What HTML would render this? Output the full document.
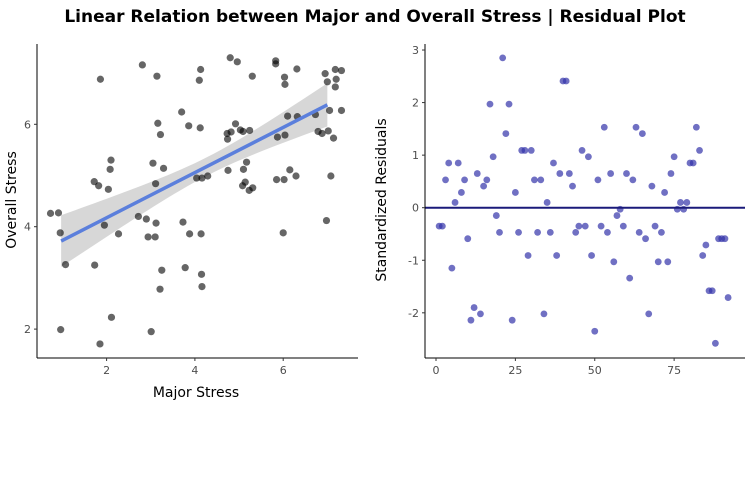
<!DOCTYPE html>
<html><head><meta charset="utf-8">
<style>
body{margin:0;background:#fff;width:750px;height:480px;overflow:hidden;font-family:"Liberation Sans",sans-serif}
svg text{font-family:"DejaVu Sans","Liberation Sans",sans-serif}
</style></head>
<body>
<svg id="chart" width="750" height="480">
<text x="375" y="22" text-anchor="middle" font-size="17" font-weight="bold" fill="#000">Linear Relation between Major and Overall Stress | Residual Plot</text>
<g id="left"></g>
<g id="right"></g>
</svg>
<script>
const majorX=[0.73,0.91,0.95,1.07,0.96,1.86,1.72,1.82,2.04,2.10,2.08,1.95,2.27,1.73,2.11,1.85,2.81,3.14,3.16,3.22,3.05,3.11,3.29,2.72,2.90,3.12,2.94,3.10,3.25,3.21,3.01,3.70,3.86,4.13,4.10,4.12,4.04,4.16,4.29,3.73,3.88,4.14,3.78,4.15,4.16,4.80,4.96,5.30,4.73,4.82,4.74,4.92,5.03,5.09,5.24,5.17,4.75,5.10,5.14,5.08,5.23,5.31,5.83,5.83,6.31,6.03,6.04,6.10,6.32,5.87,6.04,5.85,6.02,6.15,6.29,6.00,6.95,7.18,7.32,7.00,7.20,7.18,6.73,7.05,7.32,6.79,6.88,7.02,7.14,7.08,6.98];
const overallY=[4.26,4.27,3.88,3.26,1.99,6.88,4.88,4.80,4.73,5.30,5.12,4.03,3.86,3.25,2.23,1.71,7.16,6.94,6.02,5.80,5.24,4.84,5.14,4.20,4.15,4.07,3.80,3.80,3.15,2.78,1.95,6.24,5.97,7.07,6.86,5.93,4.95,4.95,4.99,4.09,3.86,3.86,3.20,3.07,2.83,7.30,7.22,6.94,5.82,5.85,5.71,6.01,5.89,5.86,5.88,5.26,5.10,5.12,4.87,4.80,4.71,4.76,7.24,7.18,7.08,6.92,6.78,6.16,6.15,5.75,5.79,4.92,4.92,5.11,4.99,3.88,6.99,7.07,7.05,6.83,6.88,6.73,6.19,6.27,6.27,5.86,5.82,5.87,5.73,4.99,4.12];
const fitX=[0.97,7.0];
const fitY=[3.72,6.38];
const xTicksL=[2,4,6];
const yTicksL=[2,4,6];
const residuals=[-0.35,-0.35,0.53,0.85,-1.15,0.10,0.85,0.29,0.53,-0.59,-2.14,-1.90,0.65,-2.02,0.41,0.53,1.97,0.97,-0.15,-0.47,2.85,1.41,1.97,-2.14,0.29,-0.47,1.09,1.09,-0.91,1.09,0.53,-0.47,0.53,-2.02,0.10,-0.47,0.85,-0.91,0.65,2.41,2.41,0.65,0.41,-0.47,-0.35,1.09,-0.35,0.97,-0.91,-2.35,0.53,-0.35,1.53,-0.47,0.65,-1.03,-0.15,-0.03,-0.35,0.65,-1.34,0.53,1.53,-0.47,1.41,-0.59,-2.02,0.41,-0.35,-1.03,-0.47,0.29,-1.03,0.65,0.97,-0.03,0.10,-0.03,0.10,0.85,0.85,1.53,1.09,-0.91,-0.71,-1.58,-1.58,-2.58,-0.59,-0.59,-0.59,-1.71];
const xTicksR=[0,25,50,75];
const yTicksR=[-2,-1,0,1,2,3];

const NS="http://www.w3.org/2000/svg";
function mk(p,t,a){const e=document.createElementNS(NS,t);for(const k in a)e.setAttribute(k,a[k]);p.appendChild(e);return e;}
// left axes
const lx=v=>18.3+v*44.15, ly=v=>431.5-v*51.2;
const L=document.getElementById('left');
// band
let up=[],dn=[];
for(let i=0;i<=40;i++){const x=fitX[0]+(fitX[1]-fitX[0])*i/40;const y=fitY[0]+(fitY[1]-fitY[0])*(x-fitX[0])/(fitX[1]-fitX[0]);const hw=Math.sqrt(0.0324+0.02*(x-4.3)*(x-4.3));up.push(lx(x)+','+ly(y+hw));dn.unshift(lx(x)+','+ly(y-hw));}
let band=mk(L,'polygon',{points:up.concat(dn).join(' '),fill:'#bdbdbd','fill-opacity':'0.6'});


majorX.forEach((x,i)=>{const c=mk(L,'circle',{cx:lx(x),cy:ly(overallY[i]),r:3.6,fill:'#000','fill-opacity':'0.6'});

});
let fl=mk(L,'line',{x1:lx(fitX[0]),y1:ly(fitY[0]),x2:lx(fitX[1]),y2:ly(fitY[1]),stroke:'#5b7fdc','stroke-width':3.5});


mk(L,'line',{x1:37,y1:44,x2:37,y2:358,stroke:'#000','stroke-width':1});
mk(L,'line',{x1:37,y1:358,x2:358,y2:358,stroke:'#000','stroke-width':1});
xTicksL.forEach(v=>{mk(L,'line',{x1:lx(v),y1:358,x2:lx(v),y2:361,stroke:'#333'});const t=mk(L,'text',{x:lx(v),y:374,'text-anchor':'middle','font-size':11,fill:'#4d4d4d'});t.textContent=v;

});
yTicksL.forEach(v=>{mk(L,'line',{x1:34,y1:ly(v),x2:37,y2:ly(v),stroke:'#333'});const t=mk(L,'text',{x:31,y:ly(v)+4,'text-anchor':'end','font-size':11,fill:'#4d4d4d'});t.textContent=v;

});
let xl=mk(L,'text',{x:196,y:397,'text-anchor':'middle','font-size':14,fill:'#000'});xl.textContent='Major Stress';


let yl=mk(L,'text',{x:0,y:0,'text-anchor':'middle','font-size':14,fill:'#000',transform:'translate(16,200) rotate(-90)'});yl.textContent='Overall Stress';


// right
const rx=v=>436+v*3.175, ry=v=>207.7-v*52.56;
const R=document.getElementById('right');
residuals.forEach((v,i)=>{const c=mk(R,'circle',{cx:rx(i+1),cy:ry(v),r:3.4,fill:'#3333aa','fill-opacity':'0.7'});

});
let zl=mk(R,'line',{x1:425,y1:ry(0),x2:745,y2:ry(0),stroke:'#1a1a7a','stroke-width':2});


mk(R,'line',{x1:425,y1:44,x2:425,y2:358,stroke:'#000'});
mk(R,'line',{x1:425,y1:358,x2:745,y2:358,stroke:'#000'});
xTicksR.forEach(v=>{mk(R,'line',{x1:rx(v),y1:358,x2:rx(v),y2:361,stroke:'#333'});const t=mk(R,'text',{x:rx(v),y:374,'text-anchor':'middle','font-size':11,fill:'#4d4d4d'});t.textContent=v;

});
yTicksR.forEach(v=>{mk(R,'line',{x1:422,y1:ry(v),x2:425,y2:ry(v),stroke:'#333'});const t=mk(R,'text',{x:419,y:ry(v)+4,'text-anchor':'end','font-size':11,fill:'#4d4d4d'});t.textContent=v;

});
let yr=mk(R,'text',{x:0,y:0,'text-anchor':'middle','font-size':14,fill:'#000',transform:'translate(386,200) rotate(-90)'});yr.textContent='Standardized Residuals';


</script>
</body></html>
